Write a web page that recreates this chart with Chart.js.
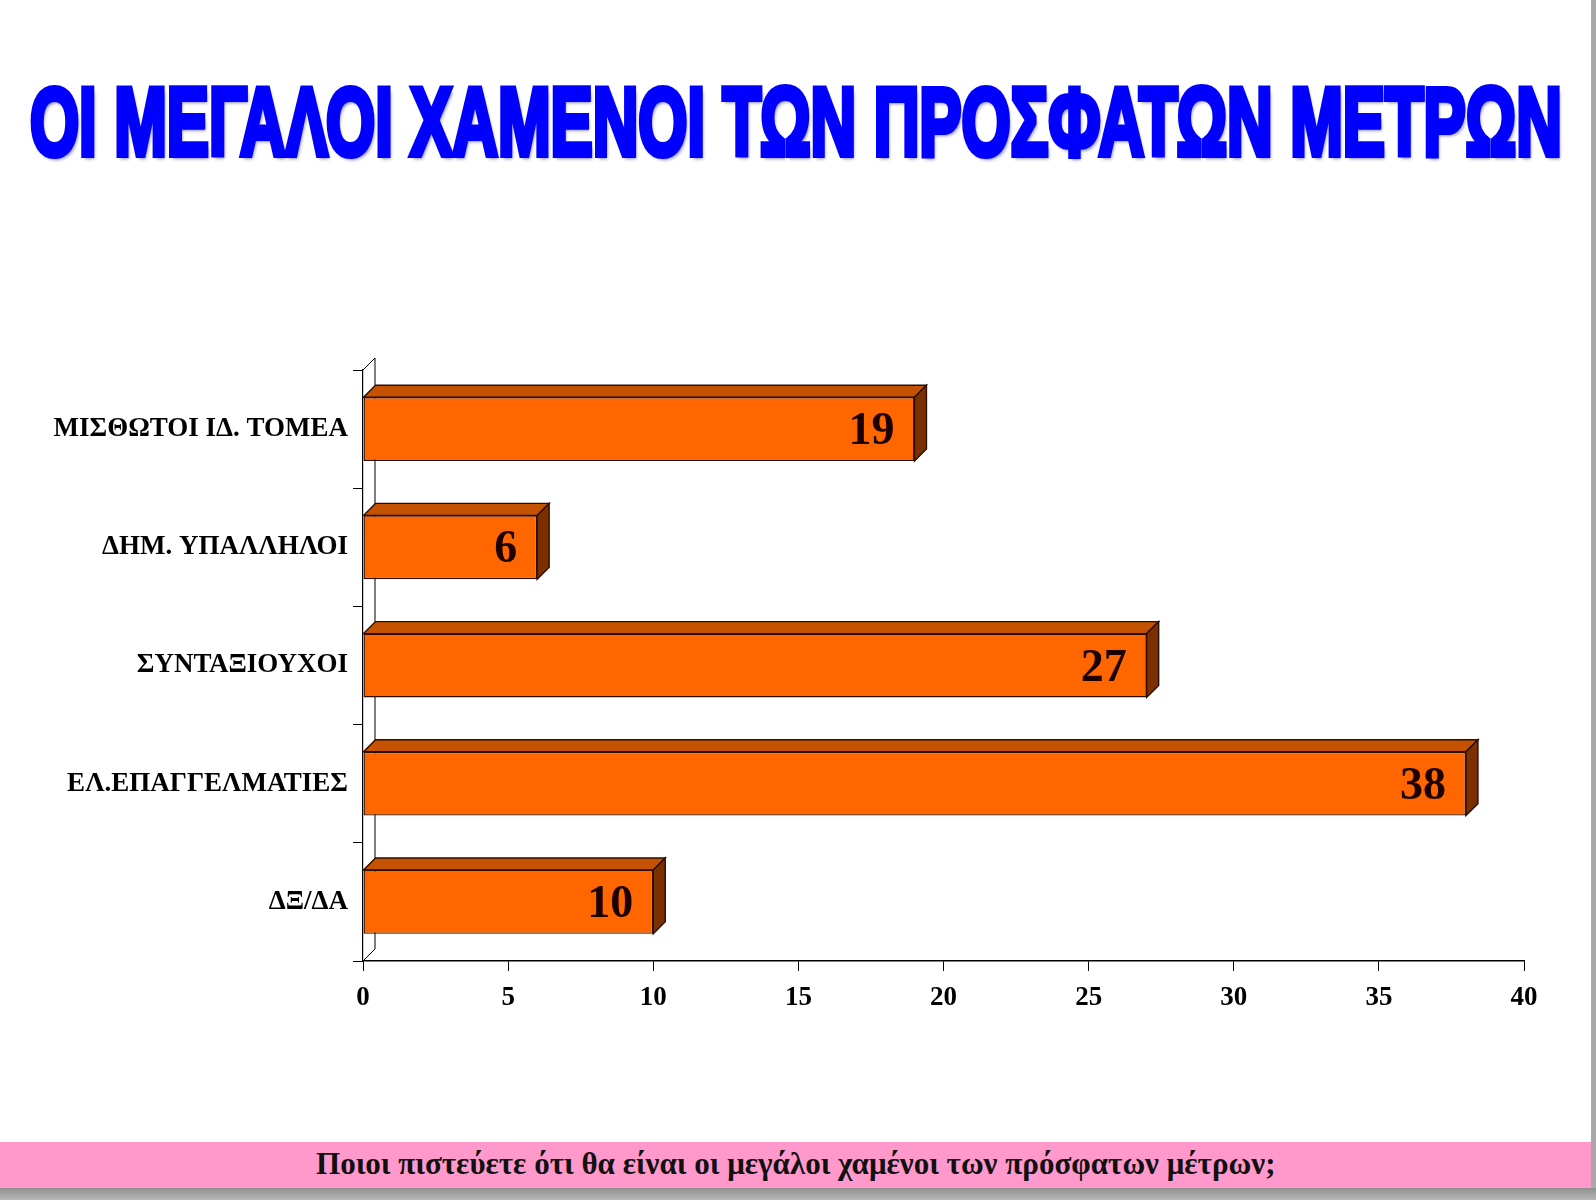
<!DOCTYPE html>
<html>
<head>
<meta charset="utf-8">
<script src="https://cdn.jsdelivr.net/npm/chart.js@4.4.0/dist/chart.umd.min.js"></script>
<style>
  html, body { margin: 0; padding: 0; background: #fff; }
  #page { position: relative; width: 1596px; height: 1200px; overflow: hidden; background: #fff; }
  #title {
    position: absolute; left: 0; top: 74px; white-space: nowrap;
    font-family: "Liberation Sans", Arial, sans-serif; font-weight: bold;
    font-size: 96px; line-height: 96px; color: #0000ff;
    -webkit-text-stroke: 6px #0000ff;
    text-shadow: 3px 4px 4px rgba(40, 40, 120, 0.55);
    transform-origin: 0 0;
  }
  #strip {
    position: absolute; left: 0; top: 1142px; width: 1591px; height: 46px;
    background: #ff99cc;
  }
  #caption {
    position: absolute; left: 0; top: 5px; white-space: nowrap;
    font-family: "Liberation Serif", "Times New Roman", serif; font-weight: bold;
    font-size: 31px; line-height: 34px; color: #111;
    transform-origin: 0 0;
  }
  #rightEdge { position: absolute; left: 1591px; top: 0; width: 5px; height: 1200px; background: #a9a9a9; }
  #bottomEdge { position: absolute; left: 0; top: 1188px; width: 1596px; height: 12px;
    background: linear-gradient(#8f8f8f, #b8b8b8); }
  canvas { position: absolute; left: 0; top: 0; }
</style>
</head>
<body>
<div id="page">
  <div id="title">ΟΙ ΜΕΓΑΛΟΙ ΧΑΜΕΝΟΙ ΤΩΝ ΠΡΟΣΦΑΤΩΝ ΜΕΤΡΩΝ</div>
  <canvas id="barChart" width="1596" height="1200"></canvas>
  <div id="strip"><div id="caption">Ποιοι πιστεύετε ότι θα είναι οι μεγάλοι χαμένοι των πρόσφατων μέτρων;</div></div>
  <div id="rightEdge"></div>
  <div id="bottomEdge"></div>
</div>
<script>
var categories = ["ΜΙΣΘΩΤΟΙ ΙΔ. ΤΟΜΕΑ", "ΔΗΜ. ΥΠΑΛΛΗΛΟΙ", "ΣΥΝΤΑΞΙΟΥΧΟΙ", "ΕΛ.ΕΠΑΓΓΕΛΜΑΤΙΕΣ", "ΔΞ/ΔΑ"];
var values = [19, 6, 27, 38, 10];
var axisMin = 0;
var axisMax = 40;
var axisStep = 5;

// squeeze a line of text to a given width
function fitWidth(id, left, width) {
    var el = document.getElementById(id);
    var w = el.scrollWidth;
    el.style.left = left + "px";
    el.style.transform = "scaleX(" + (width / w) + ")";
}
fitWidth("title", 30, 1532);
fitWidth("caption", 316, 960);

var depth = 12;

var bar3d = {
    id: "bar3d",
    beforeDatasetsDraw: function (chart) {
        var ctx = chart.ctx, a = chart.chartArea;
        ctx.save();
        ctx.strokeStyle = "#000";
        ctx.lineWidth = 1;
        ctx.beginPath();
        ctx.moveTo(a.left, a.top);
        ctx.lineTo(a.left + depth, a.top - depth);
        ctx.lineTo(a.left + depth, a.bottom - depth);
        ctx.lineTo(a.left, a.bottom);
        ctx.stroke();
        ctx.restore();
    },
    afterDatasetsDraw: function (chart) {
        var ctx = chart.ctx;
        var meta = chart.getDatasetMeta(0);
        ctx.save();
        ctx.lineWidth = 1.4;
        ctx.strokeStyle = "#2a0e00";
        meta.data.forEach(function (bar, i) {
            var top = bar.y - bar.height / 2;
            var bottom = bar.y + bar.height / 2;
            var x0 = bar.base, x1 = bar.x;
            // top face
            ctx.fillStyle = "#c45200";
            ctx.beginPath();
            ctx.moveTo(x0, top);
            ctx.lineTo(x0 + depth, top - depth);
            ctx.lineTo(x1 + depth, top - depth);
            ctx.lineTo(x1, top);
            ctx.closePath();
            ctx.fill(); ctx.stroke();
            // side face
            ctx.fillStyle = "#7a3000";
            ctx.beginPath();
            ctx.moveTo(x1, top);
            ctx.lineTo(x1 + depth, top - depth);
            ctx.lineTo(x1 + depth, bottom - depth);
            ctx.lineTo(x1, bottom);
            ctx.closePath();
            ctx.fill(); ctx.stroke();
            // value
            ctx.fillStyle = "#1c0000";
            ctx.font = "bold 46px 'Liberation Serif', 'Times New Roman', serif";
            ctx.textAlign = "right";
            ctx.textBaseline = "alphabetic";
            ctx.fillText(values[i], x1 - 20, bar.y + 15);
        });
        ctx.restore();
    }
};

var ctx = document.getElementById("barChart").getContext("2d");
new Chart(ctx, {
    type: "bar",
    data: {
        labels: categories,
        datasets: [{
            data: values,
            backgroundColor: "#ff6600",
            borderColor: "#2a0e00",
            borderWidth: 1.4,
            borderSkipped: false,
            barPercentage: 0.54,
            categoryPercentage: 1
        }]
    },
    options: {
        indexAxis: "y",
        responsive: false,
        animation: false,
        devicePixelRatio: 1,
        layout: { padding: { left: 0, top: 370, right: 72, bottom: 179 } },
        plugins: { legend: { display: false }, tooltip: { enabled: false } },
        scales: {
            x: {
                min: axisMin, max: axisMax,
                ticks: {
                    stepSize: axisStep, color: "#000", padding: 11,
                    font: { family: "'Liberation Serif', 'Times New Roman', serif", weight: "bold", size: 27 }
                },
                grid: { drawOnChartArea: false, drawTicks: true, tickLength: 10, color: "#000", lineWidth: 1 },
                border: { color: "#000", width: 1.5 },
                afterFit: function (s) { s.height = 60; }
            },
            y: {
                ticks: {
                    color: "#000", padding: 5,
                    font: { family: "'Liberation Serif', 'Times New Roman', serif", weight: "bold", size: 27 }
                },
                grid: { drawOnChartArea: false, drawTicks: true, tickLength: 10, color: "#000", lineWidth: 1, offset: true },
                border: { color: "#000", width: 1.2 },
                afterFit: function (s) { s.width = 363; }
            }
        }
    },
    plugins: [bar3d]
});
</script>
</body>
</html>
